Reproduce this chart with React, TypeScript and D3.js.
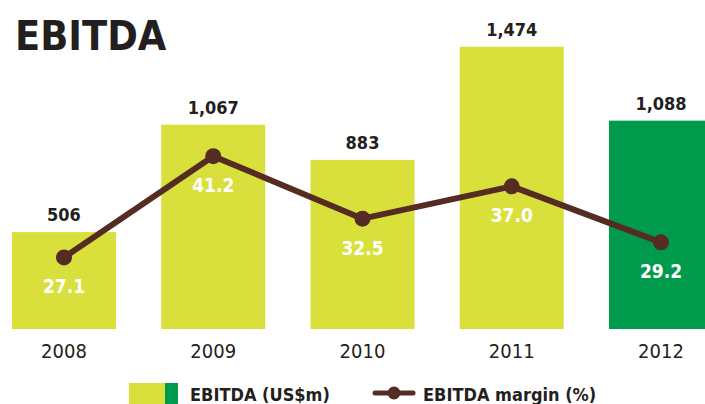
import React from "react";
import * as d3 from "d3";

const years = ["2008", "2009", "2010", "2011", "2012"];
const ebitda = [506, 1067, 883, 1474, 1088];
const ebitdaLabels = ["506", "1,067", "883", "1,474", "1,088"];
const margin = [27.1, 41.2, 32.5, 37.0, 29.2];
const marginLabels = ["27.1", "41.2", "32.5", "37.0", "29.2"];

const YELLOW = "#d9e03b";
const GREEN = "#009a4c";
const BROWN = "#552b22";
const TEXT = "#231f20";
const FONT = "'DejaVu Sans Condensed', 'DejaVu Sans', sans-serif";

export default function App() {
  const W = 705;
  const H = 404;
  const x = d3.scaleBand<string>().domain(years).range([12, 713]).paddingInner(0.3032).paddingOuter(0);
  const y = d3.scaleLinear().domain([0, 1600]).range([329, 22.6]);
  const ym = d3.scaleLinear().domain([0, 50]).range([452, 93]);
  const bw = x.bandwidth();
  const cx = (d: string) => (x(d) as number) + bw / 2;

  const line = d3
    .line<number>()
    .x((_, i) => cx(years[i]))
    .y((v) => ym(v));

  return (
    <svg
      width={W}
      height={H}
      style={{ position: "absolute", left: 0, top: 0, background: "#fff" }}
      fontFamily={FONT}
    >
      <text x={15} y={50} fontSize={41} fontWeight="bold" fill={TEXT} style={{ fontStretch: "condensed" }}>
        EBITDA
      </text>

      {years.map((yr, i) => (
        <rect
          key={yr}
          x={x(yr)}
          y={y(ebitda[i])}
          width={bw}
          height={y(0) - y(ebitda[i])}
          fill={i === years.length - 1 ? GREEN : YELLOW}
        />
      ))}

      {years.map((yr, i) => (
        <text
          key={"v" + yr}
          x={cx(yr)}
          y={y(ebitda[i]) - 11}
          textAnchor="middle"
          fontSize={18}
          fontWeight="bold"
          fill={TEXT}
        >
          {ebitdaLabels[i]}
        </text>
      ))}

      {years.map((yr) => (
        <text key={"x" + yr} x={cx(yr)} y={358} textAnchor="middle" fontSize={20} fill={TEXT}>
          {yr}
        </text>
      ))}

      <path d={line(margin) || ""} fill="none" stroke={BROWN} strokeWidth={6} strokeLinejoin="round" />
      {years.map((yr, i) => (
        <circle key={"c" + yr} cx={cx(yr)} cy={ym(margin[i])} r={8} fill={BROWN} />
      ))}

      {years.map((yr, i) => (
        <text
          key={"m" + yr}
          x={cx(yr)}
          y={ym(margin[i]) + 36}
          textAnchor="middle"
          fontSize={19}
          fontWeight="bold"
          fill="#fff"
        >
          {marginLabels[i]}
        </text>
      ))}

      {/* legend */}
      <rect x={129} y={383} width={36} height={21} fill={YELLOW} />
      <rect x={165} y={383} width={13} height={21} fill={GREEN} />
      <text x={190} y={401} fontSize={18} fontWeight="bold" fill={TEXT}>
        EBITDA (US$m)
      </text>

      <line x1={375} x2={413} y1={393} y2={393} stroke={BROWN} strokeWidth={5} strokeLinecap="round" />
      <circle cx={394} cy={393} r={6.5} fill={BROWN} />
      <text x={423} y={401} fontSize={18} fontWeight="bold" fill={TEXT}>
        EBITDA margin (%)
      </text>
    </svg>
  );
}
